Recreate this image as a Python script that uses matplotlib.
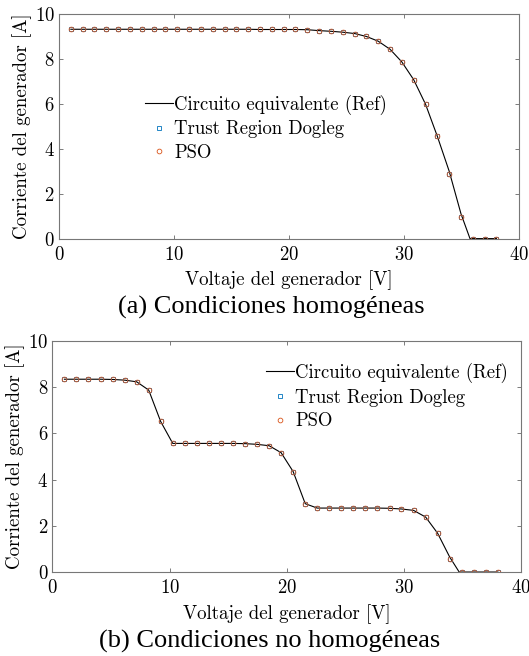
import matplotlib
matplotlib.use("Agg")
import matplotlib.pyplot as plt

plt.rcParams['font.family'] = 'cmr10'
plt.rcParams['mathtext.fontset'] = 'cm'
plt.rcParams['axes.formatter.use_mathtext'] = True

# Voltajes (V) de los puntos medidos
volt = [1.03, 2.05, 3.08, 4.11, 5.14, 6.16, 7.19, 8.22, 9.24, 10.27,
        11.30, 12.32, 13.35, 14.38, 15.41, 16.43, 17.46, 18.49, 19.51, 20.54,
        21.57, 22.59, 23.62, 24.65, 25.68, 26.70, 27.73, 28.76, 29.78, 30.81,
        31.84, 32.86, 33.89, 34.92, 35.95, 36.97, 38.00]

# (a) Condiciones homogéneas
corr_a = [9.30, 9.30, 9.30, 9.30, 9.30, 9.30, 9.30, 9.30, 9.30, 9.30,
          9.30, 9.30, 9.30, 9.30, 9.30, 9.30, 9.29, 9.29, 9.29, 9.29,
          9.28, 9.24, 9.21, 9.17, 9.11, 8.98, 8.77, 8.41, 7.85, 7.06,
          5.97, 4.55, 2.86, 0.95, 0.0, 0.0, 0.0]
volt_ref_a = volt[:32] + [33.89, 34.92, 35.70, 38.00]
corr_ref_a = corr_a[:32] + [3.00, 1.10, 0.0, 0.0]

# (b) Condiciones no homogéneas
corr_b = [8.35, 8.35, 8.35, 8.35, 8.34, 8.31, 8.24, 7.88, 6.52, 5.57,
          5.57, 5.57, 5.57, 5.57, 5.57, 5.56, 5.53, 5.47, 5.17, 4.35,
          2.96, 2.77, 2.77, 2.77, 2.77, 2.77, 2.77, 2.76, 2.73, 2.67,
          2.38, 1.68, 0.57, 0.0, 0.0, 0.0, 0.0]
volt_ref_b = volt[:32] + [33.89, 34.70, 38.00]
corr_ref_b = corr_b[:32] + [0.65, 0.0, 0.0]

etiquetas = ['Circuito equivalente (Ref)', 'Trust Region Dogleg', 'PSO']

fig = plt.figure(figsize=(5.29, 6.56), dpi=100)
ax1 = fig.add_axes([0.1115, 0.6363, 0.8705, 0.3431])
ax2 = fig.add_axes([0.0989, 0.128, 0.8866, 0.352])


def dibujar(ax, vr, ir, v, i):
    ax.plot(vr, ir, '-', color='k', lw=0.8, label=etiquetas[0])
    ax.plot(v, i, 's', ms=2.2, mfc='none', mec='#0072BD', mew=0.6, label=etiquetas[1])
    ax.plot(v, i, 'o', ms=3.4, mfc='none', mec='#D95319', mew=0.6, label=etiquetas[2])
    ax.set_xlim(0, 40)
    ax.set_ylim(0, 10)
    ax.set_xticks([0, 10, 20, 30, 40])
    ax.set_yticks([0, 2, 4, 6, 8, 10])
    ax.tick_params(direction='in', top=True, right=True, length=3,
                   width=0.6, color='#666666', labelsize=13.5)
    ax.tick_params(axis='x', pad=5)
    ax.tick_params(axis='y', pad=3)
    for s in ax.spines.values():
        s.set_color('#777777')
        s.set_linewidth(0.8)
    ax.set_xlabel('Voltaje del generador [V]', fontsize=13.6, labelpad=5)
    ax.set_ylabel('Corriente del generador [A]', fontsize=13.6, labelpad=2)


dibujar(ax1, volt_ref_a, corr_ref_a, volt, corr_a)
dibujar(ax2, volt_ref_b, corr_ref_b, volt, corr_b)

ax1.legend(loc='upper left', bbox_to_anchor=(0.274, 0.856), bbox_transform=fig.transFigure,
           frameon=False, fontsize=13.5, handlelength=1.5, handletextpad=0.05,
           borderpad=0, borderaxespad=0, labelspacing=0.3)
ax2.legend(loc='upper left', bbox_to_anchor=(0.503, 0.447), bbox_transform=fig.transFigure,
           frameon=False, fontsize=13.5, handlelength=1.5, handletextpad=0.05,
           borderpad=0, borderaxespad=0, labelspacing=0.3)

fig.text(0.512, 0.531, '(a) Condiciones homogéneas', family='Liberation Serif',
         fontsize=19, ha='center', va='center')
fig.text(0.510, 0.022, '(b) Condiciones no homogéneas', family='Liberation Serif',
         fontsize=19, ha='center', va='center')

fig.savefig('out.png', dpi=100)
